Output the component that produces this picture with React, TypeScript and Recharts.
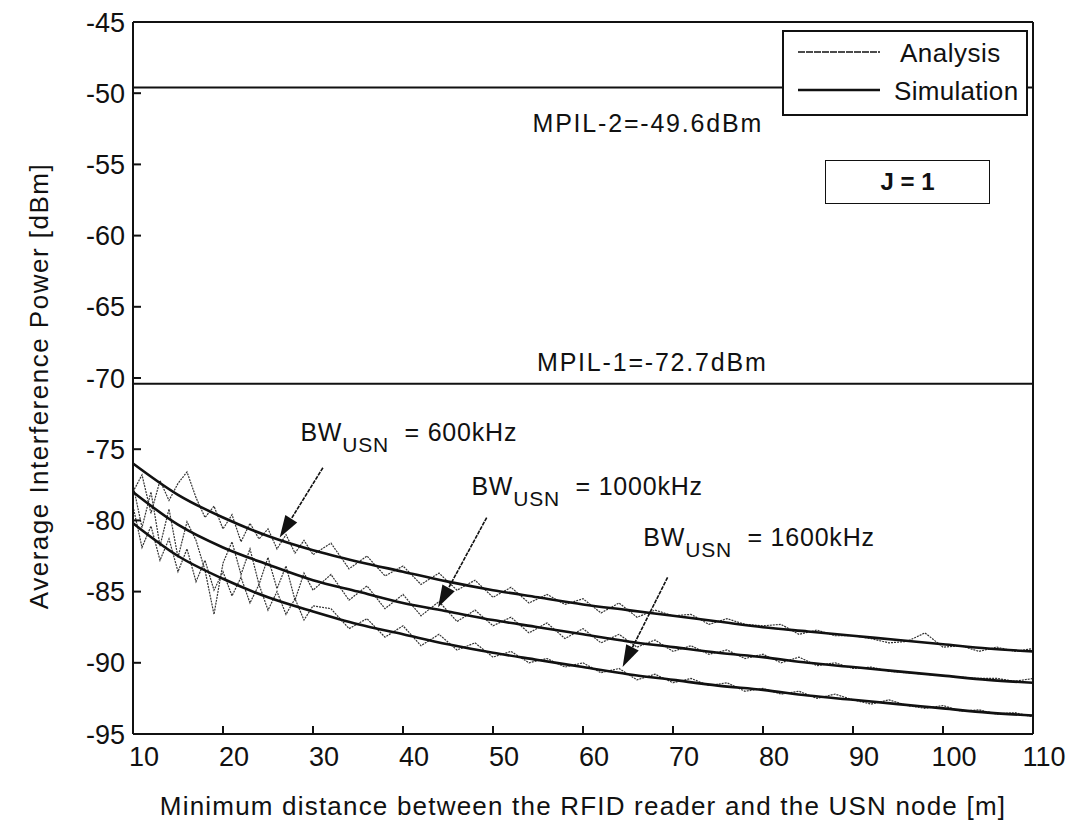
import React from 'react';
import {
  LineChart, Line, XAxis, YAxis, ReferenceLine, ReferenceDot
} from 'recharts';

// distance [m]
const xTicks = [10, 20, 30, 40, 50, 60, 70, 80, 90, 100, 110];
const yTicks = [-95, -90, -85, -80, -75, -70, -65, -60, -55, -50, -45];

// analysis curves, every 5 m
const distA = [10, 15, 20, 25, 30, 35, 40, 45, 50, 55, 60, 65, 70, 75, 80, 85, 90, 95, 100, 105, 110];
const ana600 = [-76.0, -78.2, -79.8, -81.1, -82.1, -82.9, -83.6, -84.3, -84.9, -85.4, -85.9, -86.3, -86.7, -87.1, -87.5, -87.8, -88.1, -88.4, -88.7, -89.0, -89.2];
const ana1000 = [-78.0, -80.3, -81.9, -83.1, -84.2, -85.0, -85.8, -86.4, -87.0, -87.5, -88.0, -88.5, -88.9, -89.3, -89.6, -90.0, -90.3, -90.6, -90.9, -91.2, -91.4];
const ana1600 = [-80.2, -82.5, -84.1, -85.4, -86.4, -87.3, -88.0, -88.7, -89.3, -89.8, -90.3, -90.8, -91.2, -91.6, -91.9, -92.3, -92.6, -92.9, -93.2, -93.5, -93.7];

// simulation runs: 1 m steps up to 30 m, then 2 m steps
const distS = [
  10, 11, 12, 13, 14, 15, 16, 17, 18, 19, 20, 21, 22, 23, 24, 25, 26, 27, 28, 29, 30,
  32, 34, 36, 38, 40, 42, 44, 46, 48, 50, 52, 54, 56, 58, 60, 62, 64, 66, 68, 70,
  72, 74, 76, 78, 80, 82, 84, 86, 88, 90, 92, 94, 96, 98, 100, 102, 104, 106, 108, 110,
];
const sim600 = [
  -78.0, -76.8, -79.5, -77.2, -78.6, -77.4, -76.6, -78.4, -79.8, -79.0, -80.6, -79.6, -81.5, -80.2, -81.3, -80.6, -82.0, -81.0, -82.3, -81.4, -82.4,
  -81.6, -83.4, -82.5, -83.9, -83.2, -84.5, -83.7, -84.9, -84.2, -85.4, -84.7, -85.8, -85.2, -85.9, -85.5, -86.5, -85.8, -86.8, -86.3, -86.7,
  -86.6, -87.3, -86.9, -87.3, -87.4, -87.3, -88.0, -87.7, -88.1, -88.1, -88.3, -88.6, -88.5, -87.9, -88.9, -88.8, -89.2, -88.9, -89.2, -89.0,
];
const sim1000 = [
  -77.5, -80.5, -78.0, -81.8, -79.2, -82.6, -80.1, -81.4, -83.5, -86.6, -83.0, -81.5, -83.8, -82.0, -84.5, -82.6, -84.8, -83.2, -85.6, -83.7, -84.9,
  -83.8, -85.6, -84.6, -86.2, -85.2, -86.7, -85.7, -87.1, -86.3, -87.4, -86.8, -87.9, -87.2, -88.3, -87.6, -88.6, -88.0, -88.9, -88.4, -89.2,
  -88.8, -89.4, -89.1, -89.7, -89.4, -90.0, -89.6, -90.2, -90.0, -90.4, -90.3, -90.6, -90.7, -90.8, -90.9, -91.0, -91.1, -91.1, -91.3, -91.1,
];
const sim1600 = [
  -79.0, -81.9, -80.4, -82.8, -81.3, -83.6, -82.0, -84.3, -82.8, -84.9, -83.6, -85.3, -84.0, -85.8, -84.5, -86.3, -85.0, -86.6, -85.5, -87.0, -86.0,
  -86.2, -87.6, -86.9, -88.2, -87.4, -88.8, -88.0, -89.1, -88.6, -89.6, -89.2, -90.0, -89.7, -90.3, -90.0, -90.7, -90.4, -91.2, -90.8, -91.4,
  -91.1, -91.6, -91.4, -92.0, -91.8, -92.2, -92.0, -92.5, -92.2, -92.6, -92.9, -92.6, -93.0, -93.2, -93.0, -93.4, -93.3, -93.6, -93.5, -93.8,
];

const mpil2 = -49.6;
const mpil1Line = -70.4;

const toPts = (xs: number[], ys: number[]) => xs.map((x, i) => ({ x, y: ys[i] }));

const FONT = '"Liberation Sans", Arial, sans-serif';

// arrows: [from, tip]
const arrows = [
  [{ x: 31.1, y: -76.3 }, { x: 26.3, y: -81.2 }],
  [{ x: 49.3, y: -79.8 }, { x: 43.9, y: -86.1 }],
  [{ x: 69.4, y: -84.0 }, { x: 64.4, y: -90.3 }],
];

const bwLabels = [
  { x: 28.6, y: -73.8, text: '600kHz' },
  { x: 47.6, y: -77.6, text: '1000kHz' },
  { x: 66.7, y: -81.2, text: '1600kHz' },
];

const Arrow = (p: any) => {
  const { x1, y1, x2, y2 } = p;
  const ang = Math.atan2(y2 - y1, x2 - x1);
  const len = 22, w = 7;
  const bx = x2 - len * Math.cos(ang), by = y2 - len * Math.sin(ang);
  const px = -Math.sin(ang) * w, py = Math.cos(ang) * w;
  return (
    <g>
      <line x1={x1} y1={y1} x2={bx} y2={by} stroke="#111" strokeWidth={1.6} strokeDasharray="4 1" />
      <polygon points={`${x2},${y2} ${bx + px},${by + py} ${bx - px},${by - py}`} fill="#111" />
    </g>
  );
};

const BwText = (text: string) => (p: any) => (
  <text x={p.cx} y={p.cy} fontFamily={FONT} fontSize={25} fill="#111" dominantBaseline="central" letterSpacing={0.8}>
    BW
    <tspan fontSize={21} dy={12}>USN</tspan>
    <tspan fontSize={25} dy={-12}>{'\u00a0\u00a0= ' + text}</tspan>
  </text>
);

const CenterText = (text: string) => (p: any) => (
  <text x={p.cx} y={p.cy} fontFamily={FONT} fontSize={25} fill="#111" textAnchor="middle" dominantBaseline="central" letterSpacing={1.8}>
    {text}
  </text>
);

const noTick = () => <g />;

export default function App() {
  return (
    <div style={{ position: 'absolute', left: 0, top: 0, width: 1090, height: 824, background: '#fff' }}>
      <LineChart width={1090} height={824} margin={{ top: 21, right: 56, bottom: 0, left: 0 }}>
        <XAxis
          dataKey="x" type="number" domain={[10, 110]} ticks={xTicks} allowDuplicatedCategory={false}
          height={90} tickSize={-8} tickMargin={21} stroke="#111" strokeWidth={2}
          tick={{ fill: '#111', fontSize: 27, fontFamily: FONT, dx: 11 }}
          label={{ value: 'Minimum distance between the RFID reader and the USN node [m]', position: 'insideBottom', offset: 9, fill: '#111', fontSize: 26, fontFamily: FONT, letterSpacing: 1.2 }}
        />
        <XAxis xAxisId="top" orientation="top" dataKey="x" type="number" domain={[10, 110]} ticks={xTicks}
          height={1} tickSize={-8} stroke="#111" strokeWidth={2} tick={noTick} />
        <YAxis
          type="number" domain={[-95, -45]} ticks={yTicks} width={133} tickSize={-8} tickMargin={16}
          stroke="#111" strokeWidth={2}
          tick={{ fill: '#111', fontSize: 27, fontFamily: FONT }}
          label={{ value: 'Average Interference Power [dBm]', angle: -90, position: 'center', dx: -28, dy: 8, fill: '#111', fontSize: 26, fontFamily: FONT, letterSpacing: 1.5 }}
        />
        <YAxis yAxisId="right" orientation="right" type="number" domain={[-95, -45]} ticks={yTicks}
          width={1} tickSize={-8} stroke="#111" strokeWidth={2} tick={noTick} />

        <ReferenceLine y={mpil2} stroke="#111" strokeWidth={2} />
        <ReferenceLine y={mpil1Line} stroke="#111" strokeWidth={2} />

        <Line data={toPts(distS, sim600)} dataKey="y" stroke="#333" strokeWidth={1.2} strokeDasharray="2 1" dot={false} isAnimationActive={false} />
        <Line data={toPts(distS, sim1000)} dataKey="y" stroke="#333" strokeWidth={1.2} strokeDasharray="2 1" dot={false} isAnimationActive={false} />
        <Line data={toPts(distS, sim1600)} dataKey="y" stroke="#333" strokeWidth={1.2} strokeDasharray="2 1" dot={false} isAnimationActive={false} />
        <Line data={toPts(distA, ana600)} dataKey="y" type="monotone" stroke="#111" strokeWidth={2.6} dot={false} isAnimationActive={false} />
        <Line data={toPts(distA, ana1000)} dataKey="y" type="monotone" stroke="#111" strokeWidth={2.6} dot={false} isAnimationActive={false} />
        <Line data={toPts(distA, ana1600)} dataKey="y" type="monotone" stroke="#111" strokeWidth={2.6} dot={false} isAnimationActive={false} />

        {arrows.map((seg, i) => (
          <ReferenceLine key={'a' + i} segment={seg} shape={Arrow} ifOverflow="visible" />
        ))}
        {bwLabels.map((b, i) => (
          <ReferenceDot key={'b' + i} x={b.x} y={b.y} r={0} shape={BwText(b.text)} ifOverflow="visible" />
        ))}
        <ReferenceDot x={67.2} y={-52.1} r={0} shape={CenterText('MPIL-2=-49.6dBm')} />
        <ReferenceDot x={67.7} y={-68.9} r={0} shape={CenterText('MPIL-1=-72.7dBm')} />
      </LineChart>

      {/* legend box */}
      <div style={{ position: 'absolute', left: 782, top: 30, width: 246, height: 86, border: '2px solid #111', background: '#fff', boxSizing: 'border-box' }}>
        <svg width={242} height={82} style={{ position: 'absolute', left: 0, top: 0 }}>
          <line x1={14} y1={20} x2={96} y2={20} stroke="#111" strokeWidth={1.3} strokeDasharray="7 1" />
          <line x1={14} y1={58} x2={96} y2={58} stroke="#111" strokeWidth={2.6} />
          <text x={116} y={21} dominantBaseline="central" fontFamily={FONT} fontSize={26} fill="#111" letterSpacing={0.5}>Analysis</text>
          <text x={110} y={59} dominantBaseline="central" fontFamily={FONT} fontSize={26} fill="#111" letterSpacing={0.3}>Simulation</text>
        </svg>
      </div>
      <div style={{
        position: 'absolute', left: 825, top: 160, width: 165, height: 44, border: '1.5px solid #111',
        boxSizing: 'border-box', display: 'flex', alignItems: 'center', justifyContent: 'center',
        fontFamily: FONT, fontWeight: 'bold', fontSize: 24, color: '#111', background: '#fff'
      }}>
        J = 1
      </div>
    </div>
  );
}
